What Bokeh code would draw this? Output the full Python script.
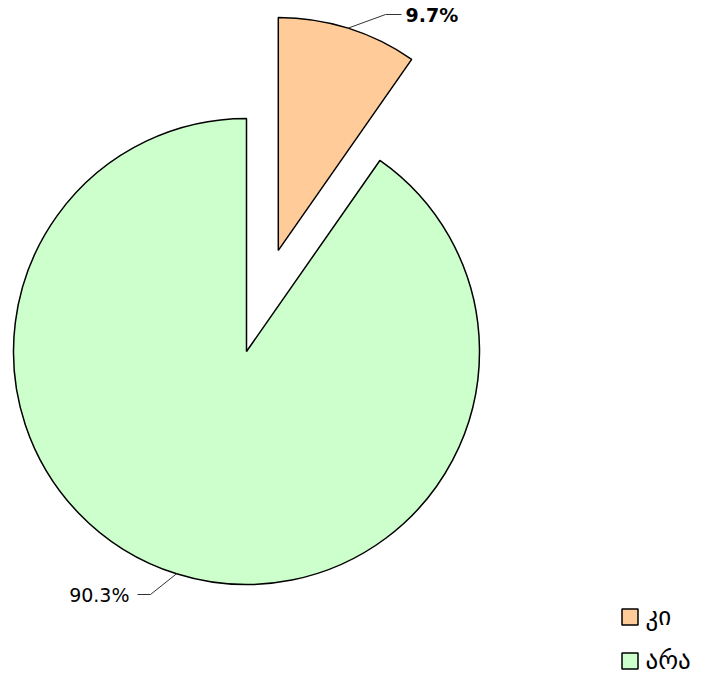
import numpy as np
from bokeh.plotting import figure
from bokeh.models import Range1d
from bokeh.embed import file_html
from bokeh.resources import INLINE
from bokeh.core.properties import value

# ---- data ----
labels = ["კი", "არა"]
values = [9.7, 90.3]
colors = ["#FFCC99", "#CCFFCC"]

# ---- layout (image pixel coordinates, y measured from top) ----
IMG_H = 679
def Y(img_y):
    return IMG_H - img_y

W, H = 690, 679
p = figure(width=W, height=H, output_backend="svg", toolbar_location=None,
           x_range=Range1d(0, 690), y_range=Range1d(0, 679),
           x_axis_type=None, y_axis_type=None, min_border=0)
p.grid.visible = False
p.outline_line_color = None
p.background_fill_color = "white"

cx, cy = 246, Y(351)
R = 233
explode = [106, 0]

vals = np.array(values, dtype=float)
frac = vals / vals.sum()
cum = np.concatenate([[0], np.cumsum(frac)])
starts = np.pi / 2 - 2 * np.pi * cum[:-1]
ends = np.pi / 2 - 2 * np.pi * cum[1:]
mids = (starts + ends) / 2

centers = []
for i in range(len(values)):
    ox = cx + explode[i] * np.cos(mids[i])
    oy = cy + explode[i] * np.sin(mids[i])
    centers.append((ox, oy))
    p.wedge(x=[ox], y=[oy], radius=R, start_angle=starts[i], end_angle=ends[i],
            direction="clock", fill_color=colors[i], line_color="black", line_width=1.5)

# label placements (pixel layout)
label_pos = [(405, 14, "left"), (129, 594, "right")]
label_style = ["bold", "normal"]
for i in range(len(values)):
    ox, oy = centers[i]
    ex = ox + R * np.cos(mids[i])
    ey = oy + R * np.sin(mids[i])
    lx, ly, align = label_pos[i]
    if align == "left":
        elbow = (lx - 20, Y(ly))
        end = (lx - 4, Y(ly))
    else:
        elbow = (lx + 21, Y(ly))
        end = (lx + 8, Y(ly))
    p.line(x=[ex, elbow[0], end[0]], y=[ey, elbow[1], end[1]], line_color="#333333", line_width=1)
    p.text(x=[lx], y=[Y(ly)], text=[f"{values[i]:.1f}%"], text_align=align,
           text_baseline="middle", text_font=value("DejaVu Sans"), text_font_style=label_style[i],
           text_font_size="19px", text_color="black")

# legend
leg_x, leg_y0, leg_dy = 629.5, 616.5, 44
for i in range(len(labels)):
    yy = Y(leg_y0 + i * leg_dy)
    p.rect(x=[leg_x], y=[yy], width=16, height=16, fill_color=colors[i],
           line_color="black", line_width=1.5)
    p.text(x=[645], y=[yy + 1], text=[labels[i]], text_align="left", text_baseline="middle",
           text_font=value("DejaVu Sans"), text_font_size="25px", text_color="black")

open("out.html", "w").write(file_html(p, INLINE))
